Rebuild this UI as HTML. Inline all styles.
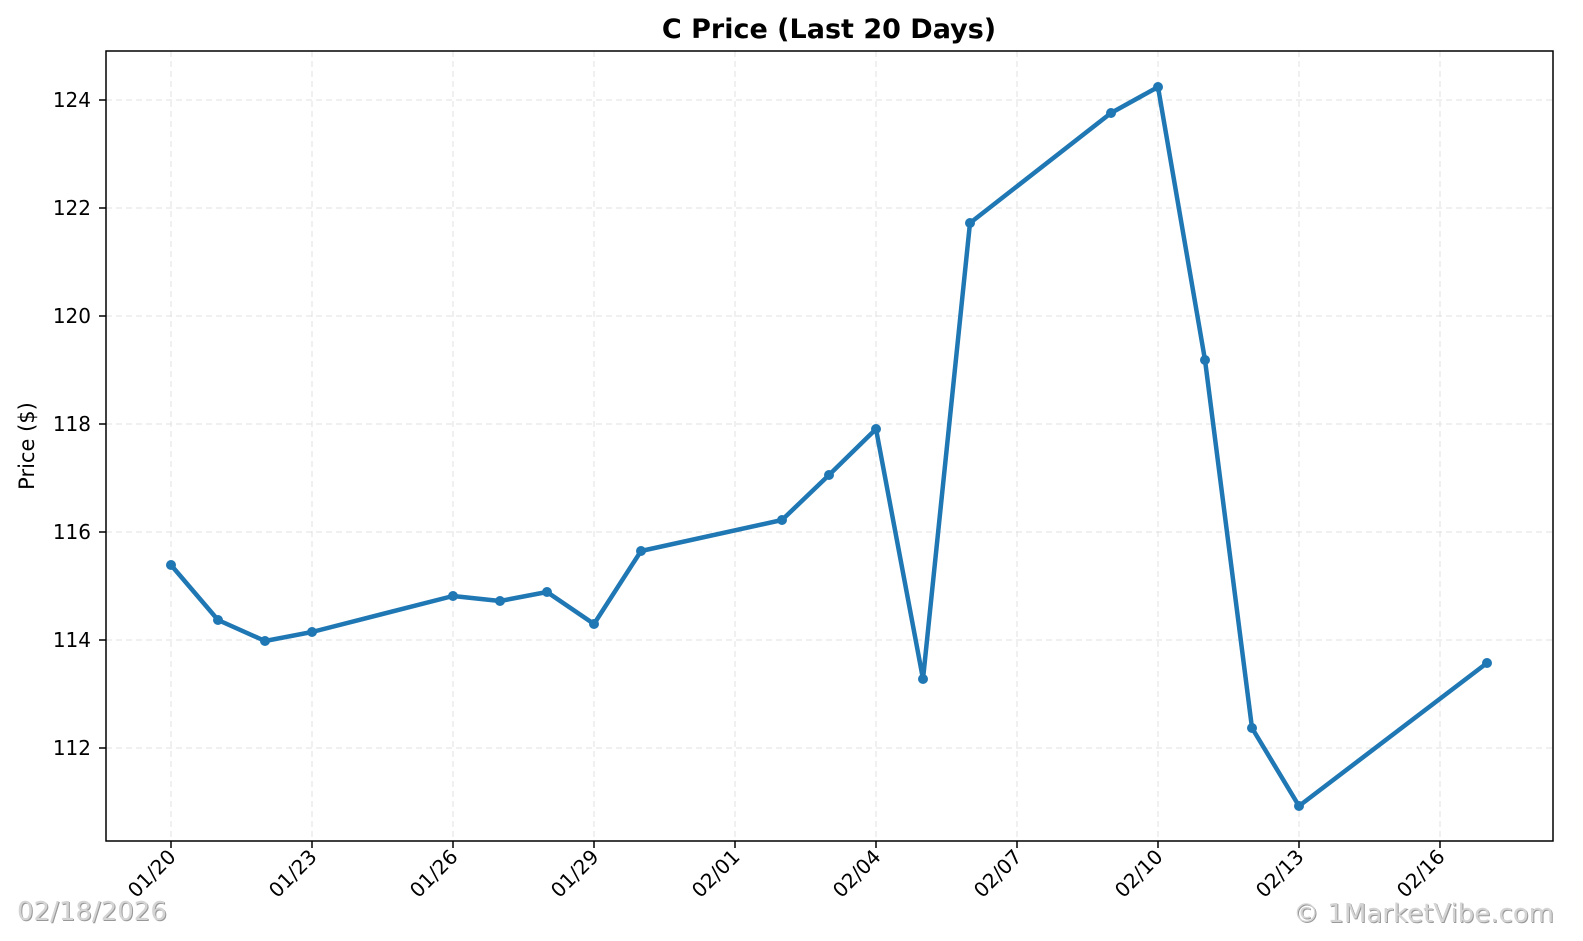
<!DOCTYPE html>
<html><head><style>body{margin:0;background:#fff}svg{display:block}</style></head><body>
<svg width="1583" height="941" xmlns="http://www.w3.org/2000/svg" font-family="DejaVu Sans, Liberation Sans, sans-serif">
<rect width="1583" height="941" fill="#fff"/>
<g stroke="#e0e0e0" stroke-dasharray="6,4" stroke-width="1">
<line x1="106" x2="1553" y1="100" y2="100"/><line x1="106" x2="1553" y1="208" y2="208"/><line x1="106" x2="1553" y1="316" y2="316"/><line x1="106" x2="1553" y1="424" y2="424"/><line x1="106" x2="1553" y1="532" y2="532"/><line x1="106" x2="1553" y1="640" y2="640"/><line x1="106" x2="1553" y1="748" y2="748"/>
<line y1="51" y2="841" x1="171" x2="171"/><line y1="51" y2="841" x1="312" x2="312"/><line y1="51" y2="841" x1="453" x2="453"/><line y1="51" y2="841" x1="594" x2="594"/><line y1="51" y2="841" x1="735" x2="735"/><line y1="51" y2="841" x1="876" x2="876"/><line y1="51" y2="841" x1="1017" x2="1017"/><line y1="51" y2="841" x1="1158" x2="1158"/><line y1="51" y2="841" x1="1299" x2="1299"/><line y1="51" y2="841" x1="1440" x2="1440"/>
</g>
<rect x="106" y="51" width="1447" height="790" fill="none" stroke="#000" stroke-width="1.5"/>
<g stroke="#000" stroke-width="1.5">
<line x1="99" x2="106" y1="100" y2="100"/><line x1="99" x2="106" y1="208" y2="208"/><line x1="99" x2="106" y1="316" y2="316"/><line x1="99" x2="106" y1="424" y2="424"/><line x1="99" x2="106" y1="532" y2="532"/><line x1="99" x2="106" y1="640" y2="640"/><line x1="99" x2="106" y1="748" y2="748"/>
<line y1="841" y2="848" x1="171" x2="171"/><line y1="841" y2="848" x1="312" x2="312"/><line y1="841" y2="848" x1="453" x2="453"/><line y1="841" y2="848" x1="594" x2="594"/><line y1="841" y2="848" x1="735" x2="735"/><line y1="841" y2="848" x1="876" x2="876"/><line y1="841" y2="848" x1="1017" x2="1017"/><line y1="841" y2="848" x1="1158" x2="1158"/><line y1="841" y2="848" x1="1299" x2="1299"/><line y1="841" y2="848" x1="1440" x2="1440"/>
</g>
<g font-size="20" text-anchor="end" fill="#000">
<text x="91" y="107">124</text><text x="91" y="215">122</text><text x="91" y="323">120</text><text x="91" y="431">118</text><text x="91" y="539">116</text><text x="91" y="647">114</text><text x="91" y="755">112</text>
</g>
<g font-size="20" text-anchor="end" fill="#000">
<text transform="translate(177,858) rotate(-45)">01/20</text>
<text transform="translate(318,858) rotate(-45)">01/23</text>
<text transform="translate(459,858) rotate(-45)">01/26</text>
<text transform="translate(600,858) rotate(-45)">01/29</text>
<text transform="translate(741,858) rotate(-45)">02/01</text>
<text transform="translate(882,858) rotate(-45)">02/04</text>
<text transform="translate(1023,858) rotate(-45)">02/07</text>
<text transform="translate(1164,858) rotate(-45)">02/10</text>
<text transform="translate(1305,858) rotate(-45)">02/13</text>
<text transform="translate(1446,858) rotate(-45)">02/16</text>
</g>
<text x="829" y="38" font-size="27" font-weight="bold" text-anchor="middle">C Price (Last 20 Days)</text>
<text transform="translate(34,446) rotate(-90)" font-size="21" text-anchor="middle">Price ($)</text>
<polyline fill="none" stroke="#1f77b4" stroke-width="4.5" stroke-linejoin="round" points="171,565 218,620 265,641 312,632 453,596 500,601 547,592 594,624 641,551 782,520 829,475 876,429 923,679 970,223 1111,113 1158,87 1205,360 1252,728 1299,806 1487,663"/>
<g fill="#1f77b4">
<circle cx="171" cy="565" r="5"/><circle cx="218" cy="620" r="5"/><circle cx="265" cy="641" r="5"/><circle cx="312" cy="632" r="5"/><circle cx="453" cy="596" r="5"/><circle cx="500" cy="601" r="5"/><circle cx="547" cy="592" r="5"/><circle cx="594" cy="624" r="5"/><circle cx="641" cy="551" r="5"/><circle cx="782" cy="520" r="5"/><circle cx="829" cy="475" r="5"/><circle cx="876" cy="429" r="5"/><circle cx="923" cy="679" r="5"/><circle cx="970" cy="223" r="5"/><circle cx="1111" cy="113" r="5"/><circle cx="1158" cy="87" r="5"/><circle cx="1205" cy="360" r="5"/><circle cx="1252" cy="728" r="5"/><circle cx="1299" cy="806" r="5"/><circle cx="1487" cy="663" r="5"/>
</g>
<g font-size="26">
<text x="18" y="921" fill="#999">02/18/2026</text><text x="17" y="920" fill="#d4d4d4">02/18/2026</text>
<text x="1555" y="923" fill="#999" text-anchor="end">© 1MarketVibe.com</text><text x="1554" y="922" fill="#d4d4d4" text-anchor="end">© 1MarketVibe.com</text>
</g>
</svg>
</body></html>
